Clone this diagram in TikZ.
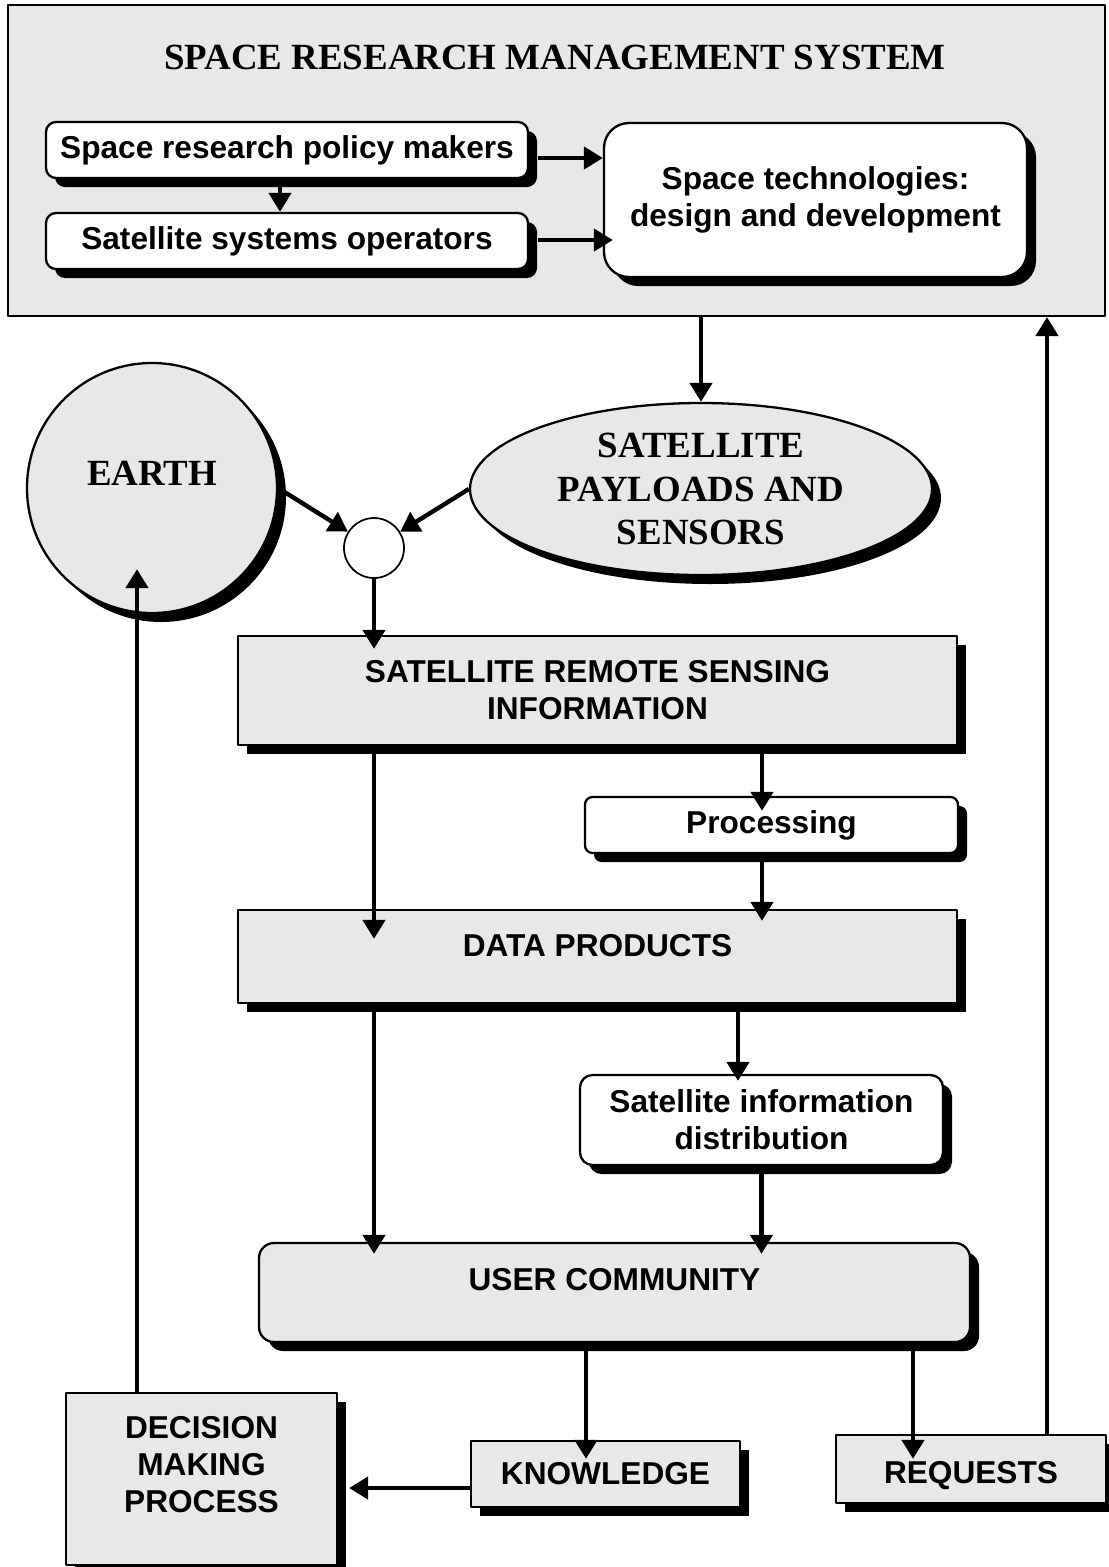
\documentclass[tikz,border=0pt]{standalone}
\usepackage{fontspec}
\setmainfont{Liberation Serif}
\setsansfont{Liberation Sans}
\usetikzlibrary{arrows.meta,shadows,shapes.geometric}

\begin{document}
\begin{tikzpicture}[line join=round,every node/.style={inner sep=1pt},
  dshadow/.style={drop shadow={shadow xshift=0.18cm,shadow yshift=-0.18cm,fill=black,opacity=1}},
  box/.style={draw,line width=1.3pt,align=center,dshadow,font=\sffamily\bfseries\fontsize{18}{21}\selectfont},
  gbox/.style={box,fill=black!9},
  wbox/.style={box,fill=white},
  serif/.style={font=\rmfamily\bfseries\fontsize{21}{24.5}\selectfont,align=center},
  arr/.style={line width=2.5pt,-{Triangle[width=0.44cm,length=0.38cm]}}]
  \useasboundingbox (0,0) rectangle (22.18,-31.34);
  \node[draw,line width=1.2pt,fill=black!9,minimum width=21.94cm,minimum height=6.22cm] (srms) at (11.13,-3.21) {};
  \node[serif] (title) at (11.10,-1.14) {SPACE RESEARCH MANAGEMENT SYSTEM};
  \node[wbox,rounded corners=0.2cm,minimum width=9.64cm,minimum height=1.12cm] (pol) at (5.74,-3.00) {Space research policy makers};
  \node[wbox,rounded corners=0.2cm,minimum width=9.64cm,minimum height=1.12cm] (ops) at (5.74,-4.82) {Satellite systems operators};
  \node[wbox,rounded corners=0.5cm,minimum width=8.46cm,minimum height=3.08cm] (tech) at (16.31,-4.00) {Space technologies:\\design and development};
  \node[ellipse,draw,line width=1.3pt,fill=black!9,dshadow,serif,inner sep=0pt,minimum width=9.24cm,minimum height=3.44cm] (pay) at (14.02,-9.78) {SATELLITE\\PAYLOADS AND\\SENSORS};
  \node[circle,draw,line width=1.3pt,fill=black!9,dshadow,minimum size=5cm,
    label={[name=earthlbl,serif,yshift=0.3cm]center:EARTH}] (earth) at (3.04,-9.76) {};
  \node[circle,draw,line width=1pt,fill=white,minimum size=1.2cm] (junc) at (7.48,-10.96) {};
  \node[gbox,minimum width=14.38cm,minimum height=2.18cm] (srs) at (11.95,-13.81) {SATELLITE REMOTE SENSING\\INFORMATION};
  \node[wbox,rounded corners=0.15cm,minimum width=7.46cm,minimum height=1.12cm] (proc) at (15.43,-16.50) {Processing};
  \node[gbox,minimum width=14.38cm,minimum height=1.86cm,text depth=0.45cm] (dp) at (11.95,-19.13) {DATA PRODUCTS};
  \node[wbox,rounded corners=0.25cm,minimum width=7.26cm,minimum height=1.80cm] (sid) at (15.23,-22.40) {Satellite information\\distribution};
  \node[gbox,rounded corners=0.3cm,minimum width=14.22cm,minimum height=1.98cm,text depth=0.54cm] (uc) at (12.29,-25.85) {USER COMMUNITY};
  \node[gbox,minimum width=5.42cm,minimum height=3.44cm,text depth=0.58cm] (dec) at (4.03,-29.58) {DECISION\\MAKING\\PROCESS};
  \node[gbox,minimum width=5.38cm,minimum height=1.32cm] (know) at (12.11,-29.48) {KNOWLEDGE};
  \node[gbox,minimum width=5.40cm,minimum height=1.36cm,text height=0.72cm] (req) at (19.42,-29.38) {REQUESTS};

  \draw[arr] ([xshift=-0.14cm]pol.south) -- ([xshift=-0.14cm]ops.north);
  \draw[arr] ([shift={(0.18cm,-0.16cm)}]pol.east) -- ([yshift=-0.16cm]pol.east -| tech.west);
  \draw[arr,shorten >=-0.2cm] ([shift={(0.18cm,0.02cm)}]ops.east) -- ([yshift=0.02cm]ops.east -| tech.west);
  \draw[arr] (srms.south -| pay.north) -- (pay.north);
  \draw[arr] (earth.east) -- (junc);
  \draw[arr] (pay.west) -- (junc);
  \draw[arr,shorten >=-0.28cm] (junc) -- (junc |- srs.north);
  \draw[arr,shorten >=-0.3cm] ([xshift=-0.19cm]srs.south -| proc.north) -- ([xshift=-0.19cm]proc.north);
  \draw[arr,shorten >=-0.24cm] ([xshift=-0.19cm]proc.south) -- ([xshift=-0.19cm]proc.south |- dp.north);
  \draw[arr,shorten >=-0.6cm] (junc |- srs.south) -- (junc |- dp.north);
  \draw[arr,shorten >=-0.14cm] ([xshift=-0.47cm]dp.south -| sid.north) -- ([xshift=-0.47cm]sid.north);
  \draw[arr,shorten >=-0.24cm] (sid.south) -- (sid.south |- uc.north);
  \draw[arr,shorten >=-0.24cm] (junc |- dp.south) -- (junc |- uc.north);
  \draw[arr,shorten >=-0.38cm] ([xshift=-0.39cm]uc.south -| know.north) -- ([xshift=-0.39cm]know.north);
  \draw[arr,shorten >=-0.5cm] ([xshift=-1.16cm]uc.south -| req.north) -- ([xshift=-1.16cm]req.north);
  \draw[arr] ([xshift=1.52cm]req.north) -- ([xshift=1.52cm]req.north |- srms.south);
  \draw[arr,shorten >=0.22cm] ([yshift=-0.28cm]know.west) -- ([yshift=-0.28cm]know.west -| dec.east);
  \draw[arr,shorten >=-0.9cm] ([xshift=-1.29cm]dec.north) -- ([xshift=-1.29cm]dec.north |- earth.south);
\end{tikzpicture}
\end{document}
